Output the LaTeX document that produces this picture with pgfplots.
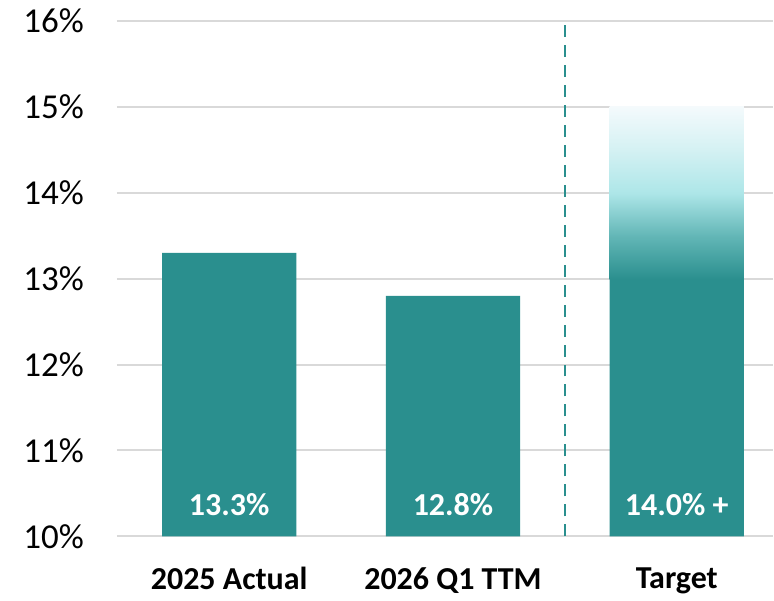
\documentclass[border=0pt]{standalone}
\usepackage{pgfplots}
\pgfplotsset{compat=1.18}
\usepackage{fontspec}
\setmainfont{Carlito}
\definecolor{teal1}{HTML}{2A8F8E}
\definecolor{midc}{HTML}{62B6B6}
\definecolor{lightc}{HTML}{ADE6E8}
\definecolor{upc}{HTML}{D4F1F3}
\definecolor{topc}{HTML}{F4FAFC}
\definecolor{gridc}{HTML}{D9D9D9}
\pgfdeclareverticalshading{tgt}{100bp}{color(0bp)=(teal1); color(25bp)=(teal1); color(37.5bp)=(midc); color(50bp)=(lightc); color(62.5bp)=(upc); color(75bp)=(topc); color(100bp)=(topc)}
\begin{document}
\begin{tikzpicture}
\begin{axis}[
  scale only axis, width=328.5pt, height=258pt,
  xmin=-0.502, xmax=2.43, ymin=10, ymax=16,
  ytick={10,11,...,16},
  yticklabel={\pgfmathprintnumber{\tick}\%},
  xtick={0,1,2}, xticklabels={2025 Actual, 2026 Q1 TTM, Target},
  axis line style={draw=none},
  major tick length=0pt,
  ymajorgrids, grid style={gridc, line width=1pt},
  yticklabel style={font=\fontsize{17.5}{20}\selectfont, xshift=-13pt},
  xticklabel style={font=\bfseries\fontsize{16}{19}\selectfont, yshift=-12pt},
  /pgf/number format/assume math mode=true,
]
\addplot[ybar, bar width=0.6, bar shift=0pt, fill=teal1, draw=none] coordinates {(0,13.3) (1,12.8) (2,13.0)};
\addplot[draw=none, shading=tgt] coordinates {(1.7,12.99) (2.3,12.99) (2.3,15) (1.7,15)} -- cycle;
\addplot[teal1, line width=1pt, dash pattern=on 6pt off 4pt] coordinates {(1.5,10) (1.5,16)};
\node[text=white, font=\bfseries\fontsize{16}{19}\selectfont] at (axis cs:0,10.37) {13.3\%};
\node[text=white, font=\bfseries\fontsize{16}{19}\selectfont] at (axis cs:1,10.37) {12.8\%};
\node[text=white, font=\bfseries\fontsize{16}{19}\selectfont] at (axis cs:2,10.37) {14.0\% +};
\end{axis}
\path (current axis.south west) ++(-58.5pt,-29.5pt) rectangle ([yshift=10.5pt]current axis.north east);
\end{tikzpicture}
\end{document}
